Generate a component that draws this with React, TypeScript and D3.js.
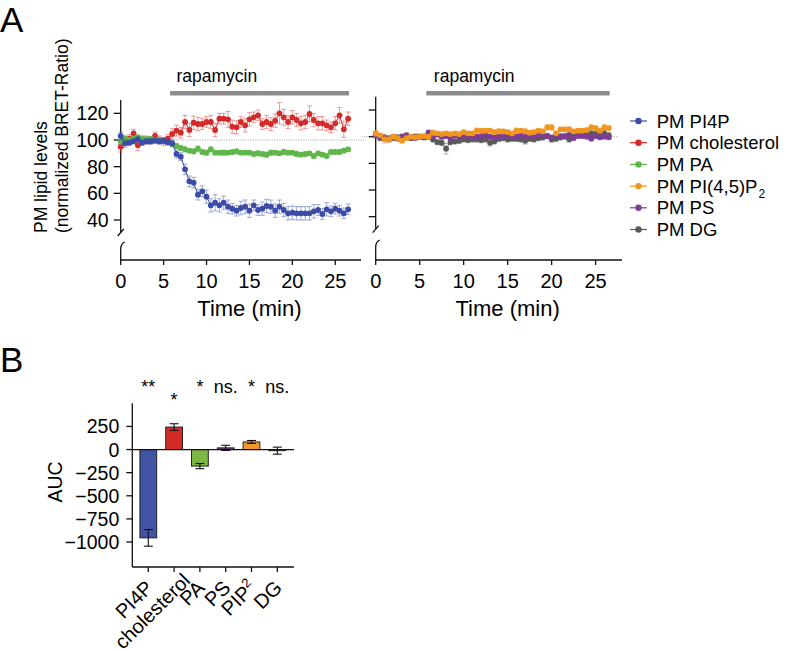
import React, { useEffect, useRef } from "react";
import * as d3 from "d3";

// time points (min)
const times = [
  0, 0.5, 1, 1.5, 2, 2.5, 3, 3.5, 4, 4.5, 5, 5.5, 6, 6.5, 7, 7.5, 8, 8.5, 9, 9.5,
  10, 10.5, 11, 11.5, 12, 12.5, 13, 13.5, 14, 14.5, 15, 15.5, 16, 16.5, 17, 17.5,
  18, 18.5, 19, 19.5, 20, 20.5, 21, 21.5, 22, 22.5, 23, 23.5, 24, 24.5, 25, 25.5,
  26, 26.5,
];

const pi4p = [
  103, 97.5, 98, 99, 100.5, 98, 99, 99, 99.5, 99,
  99.5, 98.5, 97.5, 89.5, 87.5, 78, 69, 68, 59, 61.5,
  57.5, 51, 53, 51, 53, 50, 48.5, 47, 49, 50,
  47, 51, 47.5, 48.5, 50.5, 50, 47, 50, 47.5, 45,
  45.5, 45, 45, 45, 45, 46.5, 47.5, 44.5, 48, 46.5,
  48.5, 47, 45, 48,
];
const pi4pErr = [
  3, 3, 2, 2, 2, 2, 2, 2, 2, 2,
  2, 2, 2, 3, 3, 4, 4, 4, 4, 4,
  5, 5, 6, 5, 5, 5, 4, 4, 5, 5,
  5, 4, 4, 5, 5, 5, 5, 5, 5, 5,
  5, 5, 5, 5, 5, 5, 4, 4, 5, 4,
  4, 4, 4, 4,
];

const cholesterol = [
  95, 100, 101, 105, 96, 100, 100, 99, 103, 100,
  99, 101, 104.5, 107, 105.5, 113.5, 107.5, 113, 112, 112,
  113.5, 113.5, 107.5, 116, 116, 115.5, 110, 109.5, 113.5, 111,
  115.5, 117, 118.5, 112, 113.5, 112, 114.5, 120, 117, 113.5,
  117, 115, 112.5, 113.5, 119.5, 115, 112.5, 112.5, 111, 109.5,
  112.5, 118.5, 108, 116,
];
const cholesterolErr = [
  4, 3, 3, 3, 4, 3, 3, 2, 3, 3,
  3, 3, 4, 4, 4, 5, 5, 5, 5, 4,
  4, 5, 5, 4, 4, 6, 5, 5, 4, 5,
  5, 4, 4, 4, 5, 5, 5, 8, 6, 5,
  5, 5, 5, 5, 6, 5, 5, 5, 4, 4,
  5, 6, 6, 5,
];

const pa = [
  99, 101, 100, 101, 102, 101, 100.5, 101, 100, 100,
  99.5, 98, 97, 95.5, 94, 93, 92, 91.5, 93.5, 91,
  90.5, 93, 90.5, 90.5, 90.5, 90.5, 91, 91.5, 90.5, 90.5,
  90.5, 89.5, 90, 89.5, 89, 90.5, 90.5, 90, 91, 90.5,
  90.5, 89.5, 89, 89.5, 90, 88, 90, 89, 88, 91,
  91, 91, 92, 93,
];
const paErr = [
  3, 2, 2, 2, 2, 2, 2, 1.5, 1.5, 1.5,
  1.5, 1.5, 2, 2, 2, 2, 1.5, 2, 2, 2,
  2, 2, 1.5, 1.5, 2, 1.5, 1.5, 2, 1.5, 1.5,
  1.5, 1.5, 2, 1.5, 2, 2, 1.5, 1.5, 2, 1.5,
  1.5, 2, 1.5, 1.5, 1.5, 2, 1.5, 1.5, 1.5, 1.5,
  1.5, 1.5, 1.5, 1.5,
];

const pip2 = [
  102.5, 101, 98, 98, 100, 99, 97, 99, 100, 99.5,
  100, 100.5, 100, 103, 102.5, 102, 102.5, 102, 102.5, 102,
  103.5, 102.5, 102.5, 104.5, 104.5, 104.5, 104.5, 103.5, 104, 104,
  103.5, 102.5, 104.5, 104.5, 104, 103, 103.5, 104.5, 104, 107,
  107, 102.5, 105.5, 105.5, 105.5, 104, 104.5, 104.5, 105, 107,
  106.5, 104.5, 107, 106.5,
];
const pip2Err = [
  2, 1.5, 3, 2, 1.5, 1.5, 1.5, 1.5, 1.5, 1.5,
  1.5, 1.5, 1.5, 2, 1.5, 1.5, 1.5, 1.5, 1.5, 1.5,
  1.5, 1.5, 1.5, 2, 1.5, 1.5, 1.5, 1.5, 2, 1.5,
  1.5, 1.5, 2, 1.5, 2, 1.5, 1.5, 1.5, 1.5, 2,
  2, 1.5, 1.5, 1.5, 2, 1.5, 1.5, 1.5, 1.5, 2,
  1.5, 1.5, 2, 1.5,
];

const ps = [
  101, 100, 98.5, 99, 100, 98.5, 99.5, 100.5, 100, 99,
  100, 100, 103, 100.5, 101.5, 100, 100.5, 99, 101, 100.5,
  100.5, 101, 99.5, 100, 100.5, 101, 100, 99.5, 100.5, 100,
  101, 100.5, 100, 101, 100, 101, 100.5, 101.5, 101, 100.5,
  99.5, 101, 100.5, 100, 101.5, 99, 100.5, 100.5, 100, 98.5,
  100.5, 99.5, 100, 99.5,
];
const psErr = [
  2, 1.5, 1.5, 1.5, 1.5, 1.5, 2, 1.5, 1.5, 1.5,
  1.5, 1.5, 2, 1.5, 1.5, 1.5, 2, 1.5, 1.5, 1.5,
  1.5, 1.5, 1.5, 1.5, 1.5, 1.5, 1.5, 1.5, 1.5, 1.5,
  1.5, 1.5, 1.5, 1.5, 1.5, 1.5, 1.5, 1.5, 1.5, 1.5,
  1.5, 1.5, 1.5, 1.5, 1.5, 1.5, 1.5, 1.5, 1.5, 1.5,
  1.5, 1.5, 1.5, 1.5,
];

const dg = [
  102, 99, 99.5, 98, 99, 99.5, 100, 101, 99, 100,
  100, 99.5, 100, 98, 96, 95.5, 91, 96, 96.5, 97,
  98, 97.5, 98, 98, 97.5, 98, 95.5, 96.5, 98.5, 99,
  98, 98.5, 98.5, 98, 97, 98.5, 98, 99, 99.5, 100.5,
  98, 98.5, 99.5, 100.5, 98, 101, 102, 101.5, 103, 102.5,
  102, 101.5, 102.5, 101,
];
const dgErr = [
  2, 2, 2, 2, 2, 2, 2, 2, 2, 2,
  2, 2, 2, 2, 2, 2, 4, 2, 2, 2,
  2, 2, 2, 2, 2, 2, 2.5, 2, 2, 2,
  2, 2, 2, 2, 2.5, 2, 2, 2, 2, 2,
  2, 2, 2, 2, 2, 2, 2, 2, 2, 2,
  2, 2, 2, 2,
];

const seriesNames = ["PM PI4P", "PM cholesterol", "PM PA", "PM PI(4,5)P", "PM PS", "PM DG"];
const seriesColors = ["#3b4ca8", "#d42a2a", "#5fb64a", "#f0951e", "#7e3c96", "#5a5a5a"];

const lipidTicks = [40, 60, 80, 100, 120];
const timeTicks = [0, 5, 10, 15, 20, 25];

// panel B
const barCategories = ["PI4P", "cholesterol", "PA", "PS", "PIP", "DG"];
const barValues = [-955, 243, -179, 18, 82, -12];
const barErrors = [90, 36, 28, 28, 16, 38];
const barSignif = ["**", "*", "*", "ns.", "*", "ns."];
const barColors = ["#4154a5", "#d42b27", "#7cb844", "#7e3c96", "#f09a2b", "#6a6a6a"];
const aucTicks = [250, 0, -250, -500, -750, -1000];

const FONT = "'Liberation Sans', Arial, Helvetica, sans-serif";

type Sel = d3.Selection<SVGGElement, unknown, null, undefined>;

function drawPanel(
  g: Sel,
  x: d3.ScaleLinear<number, number>,
  y: d3.ScaleLinear<number, number>,
  series: { v: number[]; e: number[]; c: string }[],
  showLabels: boolean,
  lowerTop: number,
  dotFrom: number,
  dotTo: number
) {
  const axisY = 260;
  const ax = x(0);

  // rapamycin bar
  g.append("line")
    .attr("x1", x(5.75)).attr("x2", x(26.6))
    .attr("y1", 93.3).attr("y2", 93.3)
    .attr("stroke", "#8c8c8c").attr("stroke-width", 4.5);
  g.append("text")
    .attr("x", x(11.2)).attr("y", 81.5)
    .attr("text-anchor", "middle").attr("font-size", 17.5)
    .text("rapamycin");

  // dotted 100 line
  g.append("line")
    .attr("x1", x(dotFrom)).attr("x2", x(dotTo))
    .attr("y1", y(100)).attr("y2", y(100))
    .attr("stroke", "#999").attr("stroke-width", 0.8)
    .attr("stroke-dasharray", "1.2,1.2");

  // y axis (upper part)
  const yBreak = y(31);
  g.append("line")
    .attr("x1", ax).attr("x2", ax).attr("y1", y(130)).attr("y2", yBreak)
    .attr("stroke", "#111").attr("stroke-width", 1.3);
  g.selectAll(".yt")
    .data(lipidTicks)
    .join("line")
    .attr("x1", ax - 7).attr("x2", ax)
    .attr("y1", (d) => y(d)).attr("y2", (d) => y(d))
    .attr("stroke", "#111").attr("stroke-width", 1.3);
  if (showLabels) {
    g.selectAll(".yl")
      .data(lipidTicks)
      .join("text")
      .attr("x", ax - 12)
      .attr("y", (d) => y(d))
      .attr("dy", "0.36em")
      .attr("text-anchor", "end")
      .attr("font-size", 19.5)
      .text((d) => d);
  }
  // break marks
  g.append("line")
    .attr("x1", ax - 3).attr("x2", ax + 3)
    .attr("y1", yBreak + 4).attr("y2", yBreak - 3)
    .attr("stroke", "#111").attr("stroke-width", 1.3);
  g.append("path")
    .attr("d", `M${ax},${axisY} L${ax},${lowerTop + 3} Q${ax},${lowerTop - 2} ${ax + 4},${lowerTop - 4}`)
    .attr("fill", "none").attr("stroke", "#111").attr("stroke-width", 1.3);

  // x axis
  g.append("line")
    .attr("x1", ax).attr("x2", x(28)).attr("y1", axisY).attr("y2", axisY)
    .attr("stroke", "#111").attr("stroke-width", 1.3);
  g.selectAll(".xt")
    .data(timeTicks)
    .join("line")
    .attr("x1", (d) => x(d)).attr("x2", (d) => x(d))
    .attr("y1", axisY).attr("y2", axisY + 5)
    .attr("stroke", "#111").attr("stroke-width", 1.3);
  g.selectAll(".xl")
    .data(timeTicks)
    .join("text")
    .attr("x", (d) => x(d)).attr("y", 288)
    .attr("text-anchor", "middle").attr("font-size", 20)
    .text((d) => d);
  g.append("text")
    .attr("x", x(15)).attr("y", 316)
    .attr("text-anchor", "middle").attr("font-size", 22)
    .text("Time (min)");

  // series
  series.forEach((s) => {
    const eg = g.append("g").attr("stroke", s.c).attr("stroke-opacity", 0.45).attr("stroke-width", 1);
    times.forEach((t, i) => {
      const cx = x(t);
      const hi = y(s.v[i] + s.e[i]);
      const lo = y(s.v[i] - s.e[i]);
      eg.append("line").attr("x1", cx).attr("x2", cx).attr("y1", hi).attr("y2", lo);
      eg.append("line").attr("x1", cx - 2.5).attr("x2", cx + 2.5).attr("y1", hi).attr("y2", hi);
      eg.append("line").attr("x1", cx - 2.5).attr("x2", cx + 2.5).attr("y1", lo).attr("y2", lo);
    });
    const line = d3
      .line<number>()
      .x((_, i) => x(times[i]))
      .y((d) => y(d));
    g.append("path")
      .datum(s.v)
      .attr("d", line)
      .attr("fill", "none")
      .attr("stroke", s.c)
      .attr("stroke-width", 1);
    g.append("g")
      .selectAll("circle")
      .data(s.v)
      .join("circle")
      .attr("cx", (_, i) => x(times[i]))
      .attr("cy", (d) => y(d))
      .attr("r", 2.9)
      .attr("fill", s.c);
  });
}

const App = () => {
  const chartRef = useRef<SVGSVGElement | null>(null);

  useEffect(() => {
    if (!chartRef.current) return;
    const svg = d3.select(chartRef.current);
    svg.selectAll("*").remove();
    const root = svg.append("g") as unknown as Sel;

    // panel labels
    root.append("text").attr("x", 0).attr("y", 31.7).attr("font-size", 35).text("A");
    root.append("text").attr("x", 0).attr("y", 372).attr("font-size", 35).text("B");

    // y title panel A
    const yt = root.append("g").attr("font-size", 17.5);
    yt.append("text")
      .attr("transform", "translate(47,233) rotate(-90)")
      .text("PM lipid levels");
    yt.append("text")
      .attr("transform", "translate(67.5,233) rotate(-90)")
      .text("(normalized BRET-Ratio)");

    const xLeft = d3.scaleLinear().domain([0, 28]).range([120.7, 361]);
    const yLeft = d3.scaleLinear().domain([40, 130]).range([220, 100]);
    const xRight = d3.scaleLinear().domain([0, 28]).range([375.7, 622]);
    const yRight = d3.scaleLinear().domain([40, 130]).range([216.7, 96.7]);

    drawPanel(
      root.append("g") as unknown as Sel,
      xLeft,
      yLeft,
      [
        { v: cholesterol, e: cholesterolErr, c: seriesColors[1] },
        { v: pa, e: paErr, c: seriesColors[2] },
        { v: pi4p, e: pi4pErr, c: seriesColors[0] },
      ],
      true,
      246,
      0,
      28.6
    );
    drawPanel(
      root.append("g") as unknown as Sel,
      xRight,
      yRight,
      [
        { v: dg, e: dgErr, c: seriesColors[5] },
        { v: ps, e: psErr, c: seriesColors[4] },
        { v: pip2, e: pip2Err, c: seriesColors[3] },
      ],
      false,
      244,
      -1.6,
      27.6
    );

    // legend
    const lg = root.append("g").attr("font-size", 18.5);
    seriesNames.forEach((name, i) => {
      const cy = 121 + i * 21.7;
      lg.append("line")
        .attr("x1", 630).attr("x2", 647).attr("y1", cy).attr("y2", cy)
        .attr("stroke", seriesColors[i]).attr("stroke-width", 1.2);
      lg.append("circle").attr("cx", 638.5).attr("cy", cy).attr("r", 3.2).attr("fill", seriesColors[i]);
      const t = lg.append("text").attr("x", 656.7).attr("y", cy + 6.5).text(name);
      if (name.endsWith("P") && name.includes("(")) {
        t.append("tspan").attr("font-size", 12).attr("dy", 5).attr("dx", 1).text("2");
      }
    });

    // ---------- panel B ----------
    const bBottom = 567;
    const yB = d3.scaleLinear().domain([-1270, 500]).range([bBottom, 403.3]);
    const xB = d3
      .scaleBand<string>()
      .domain(barCategories)
      .range([135.4, 290.2])
      .paddingInner(0.35)
      .paddingOuter(0.175);
    const bx = 132.3;
    const bRight = 294;
    const gb = root.append("g");
    const fmt = d3.format("");

    gb.append("line").attr("x1", bx).attr("x2", bx).attr("y1", 403.3).attr("y2", bBottom)
      .attr("stroke", "#111").attr("stroke-width", 1.3);
    gb.append("line").attr("x1", bx).attr("x2", bRight).attr("y1", bBottom).attr("y2", bBottom)
      .attr("stroke", "#111").attr("stroke-width", 1.3);

    gb.selectAll(".byt")
      .data(aucTicks)
      .join("line")
      .attr("x1", bx - 6).attr("x2", bx)
      .attr("y1", (d) => yB(d)).attr("y2", (d) => yB(d))
      .attr("stroke", "#111").attr("stroke-width", 1.3);
    gb.selectAll(".byl")
      .data(aucTicks)
      .join("text")
      .attr("x", bx - 13)
      .attr("y", (d) => yB(d))
      .attr("dy", "0.36em")
      .attr("text-anchor", "end")
      .attr("font-size", 19.5)
      .text((d) => fmt(d));

    gb.append("text")
      .attr("transform", "translate(62,482) rotate(-90)")
      .attr("text-anchor", "middle")
      .attr("font-size", 19.5)
      .text("AUC");

    // bars
    gb.selectAll("rect")
      .data(barValues)
      .join("rect")
      .attr("x", (_, i) => xB(barCategories[i]) as number)
      .attr("width", xB.bandwidth())
      .attr("y", (d) => Math.min(yB(0), yB(d)))
      .attr("height", (d) => Math.abs(yB(d) - yB(0)))
      .attr("fill", (_, i) => barColors[i])
      .attr("stroke", "#222")
      .attr("stroke-width", 1);

    // zero line
    gb.append("line").attr("x1", bx).attr("x2", bRight).attr("y1", yB(0)).attr("y2", yB(0))
      .attr("stroke", "#111").attr("stroke-width", 1.3);

    // error bars
    barValues.forEach((v, i) => {
      const cx = (xB(barCategories[i]) as number) + xB.bandwidth() / 2;
      const hi = yB(v + barErrors[i]);
      const lo = yB(v - barErrors[i]);
      const eb = gb.append("g").attr("stroke", "#111").attr("stroke-width", 1.1);
      eb.append("line").attr("x1", cx).attr("x2", cx).attr("y1", hi).attr("y2", lo);
      eb.append("line").attr("x1", cx - 4.5).attr("x2", cx + 4.5).attr("y1", hi).attr("y2", hi);
      eb.append("line").attr("x1", cx - 4.5).attr("x2", cx + 4.5).attr("y1", lo).attr("y2", lo);
    });

    // x ticks + labels
    barCategories.forEach((c, i) => {
      const cx = (xB(c) as number) + xB.bandwidth() / 2;
      gb.append("line").attr("x1", cx).attr("x2", cx).attr("y1", bBottom).attr("y2", bBottom + 5)
        .attr("stroke", "#111").attr("stroke-width", 1.3);
      const long = c.length > 8;
      const t = gb.append("text")
        .attr("transform", `translate(${cx + 6},${589}) rotate(-45)`)
        .attr("text-anchor", "end")
        .attr("font-size", 20)
        .attr("dx", long ? 13 : 0)
        .attr("dy", long ? 3 : 0)
        .text(c);
      if (c === "PIP") {
        t.append("tspan").attr("font-size", 13).attr("dy", -8).text("2");
      }
      // significance
      gb.append("text")
        .attr("x", cx)
        .attr("y", c === "cholesterol" ? 406 : 393)
        .attr("text-anchor", "middle")
        .attr("font-size", 18)
        .text(barSignif[i]);
    });
  }, []);

  return (
    <svg
      ref={chartRef}
      width={788}
      height={651}
      style={{ position: "absolute", left: 0, top: 0, fontFamily: FONT, background: "#fff" }}
    ></svg>
  );
};

export default App;
